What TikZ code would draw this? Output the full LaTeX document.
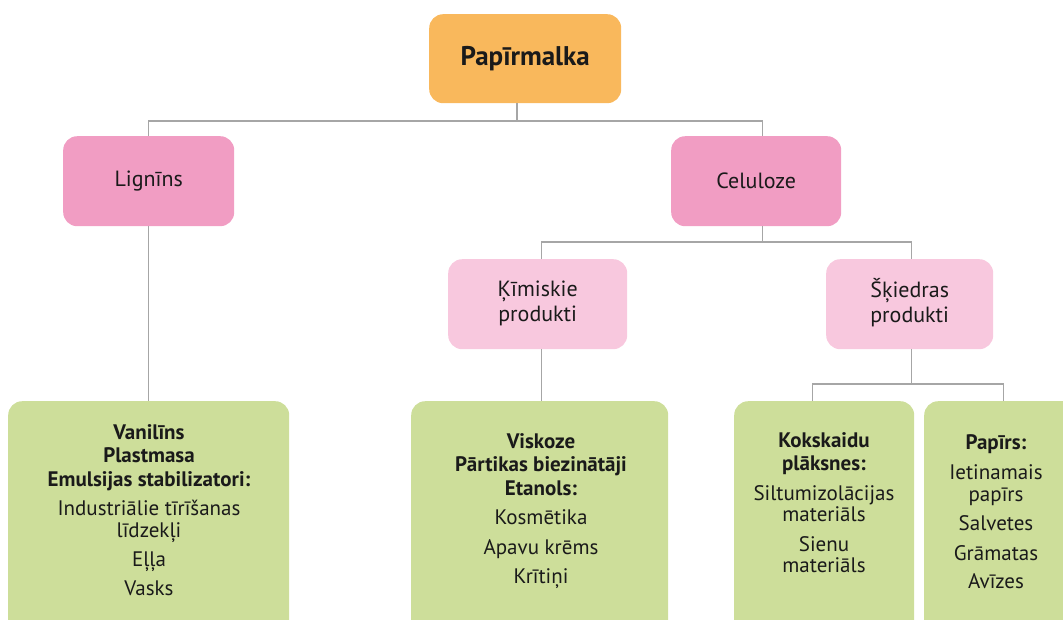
\documentclass[tikz,border=0pt]{standalone}
\usepackage{fontspec}
\setmainfont{PT Sans}
\definecolor{orangebox}{HTML}{F9B85C}
\definecolor{pinkbox}{HTML}{F19DC3}
\definecolor{lightpink}{HTML}{F8C8DE}
\definecolor{greenbox}{HTML}{CDDE9A}
\definecolor{linegray}{HTML}{A6A6A6}
\definecolor{txt}{HTML}{1A1A1A}
\newcommand{\twoline}[2]{\raisebox{-4pt}{\begin{tabular}{@{}c@{}}#1\\#2\end{tabular}}}
\begin{document}
\begin{tikzpicture}[x=1pt,y=-1pt,
  box/.style={rounded corners=14pt, inner sep=0pt, anchor=north west, text=txt, align=center},
  conn/.style={draw=linegray, line width=1.4pt},
  big/.style={font=\fontsize{22}{25}\selectfont},
  gtext/.style={anchor=north, inner sep=0pt, align=center, text=txt, font=\fontsize{21}{21.5}\selectfont}
]
\useasboundingbox (0,0) rectangle (1063,619);
\begin{scope}
\clip (0,0) rectangle (1063,619);
% boxes
\node[box, fill=orangebox, minimum width=192pt, minimum height=89pt] (pm) at (429,14) {\fontsize{27}{30}\selectfont\bfseries Papīrmalka};
\node[box, big, fill=pinkbox, minimum width=171pt, minimum height=90pt] (lig) at (63,136) {\raisebox{-2pt}{Lignīns}};
\node[box, big, fill=pinkbox, minimum width=170pt, minimum height=90pt] (cel) at (671,136) {\raisebox{-2pt}{Celuloze}};
\node[box, big, fill=lightpink, minimum width=179pt, minimum height=90pt] (kim) at (448,259) {\twoline{Ķīmiskie}{produkti}};
\node[box, big, fill=lightpink, minimum width=167pt, minimum height=90pt] (sk) at (826,259) {\twoline{Šķiedras}{produkti}};
\node[box, fill=greenbox, minimum width=281pt, minimum height=240pt] (g1) at (8,401) {};
\node[box, fill=greenbox, minimum width=257pt, minimum height=240pt] (g2) at (411,401) {};
\node[box, fill=greenbox, minimum width=180pt, minimum height=240pt] (g3) at (734,401) {};
\node[box, fill=greenbox, minimum width=170pt, minimum height=240pt] (g4) at (924,401) {};
\end{scope}
% texts in green boxes
\node[gtext] (t1) at (149,424) {\textbf{Vanilīns}\\[2pt]\textbf{Plastmasa}\\[2pt]\textbf{Emulsijas stabilizatori:}\\[8pt]Industriālie tīrīšanas\\līdzekļi\\[8pt]Eļļa\\[7pt]Vasks};
\node[gtext] (t2) at (541,433) {\textbf{Viskoze}\\[2pt]\textbf{Pārtikas biezinātāji}\\[2pt]\textbf{Etanols:}\\[8pt]Kosmētika\\[8pt]Apavu krēms\\[8pt]Krītiņi};
\node[gtext] (t3) at (824,432) {\textbf{Kokskaidu}\\[2pt]\textbf{plāksnes:}\\[8pt]Siltumizolācijas\\materiāls\\[8pt]Sienu\\materiāls};
\node[gtext] (t4) at (996,434) {\textbf{Papīrs:}\\[9pt]Ietinamais\\papīrs\\[8pt]Salvetes\\[8pt]Grāmatas\\[7pt]Avīzes};
% connectors
\coordinate (j1) at (517,121);
\coordinate (j2) at ([xshift=6pt]cel.south |- 0,242);
\coordinate (j3) at ([xshift=2pt]sk.south |- 0,384);
\draw[conn] (pm.south -| j1) -- (j1);
\draw[conn] (lig.north) |- (j1) -| ([xshift=6pt]cel.north);
\draw[conn] ([xshift=6pt]cel.south) -- (j2);
\draw[conn] ([xshift=3.5pt]kim.north) |- (j2) -| ([xshift=2pt]sk.north);
\draw[conn] (lig.south) -- (lig.south |- g1.north);
\draw[conn] ([xshift=3.5pt]kim.south) -- ([xshift=3.5pt]kim.south |- g2.north);
\draw[conn] ([xshift=2pt]sk.south) -- (j3);
\draw[conn] ([xshift=-12pt]g3.north) |- (j3) -| ([xshift=-6pt]g4.north);
\end{tikzpicture}
\end{document}
